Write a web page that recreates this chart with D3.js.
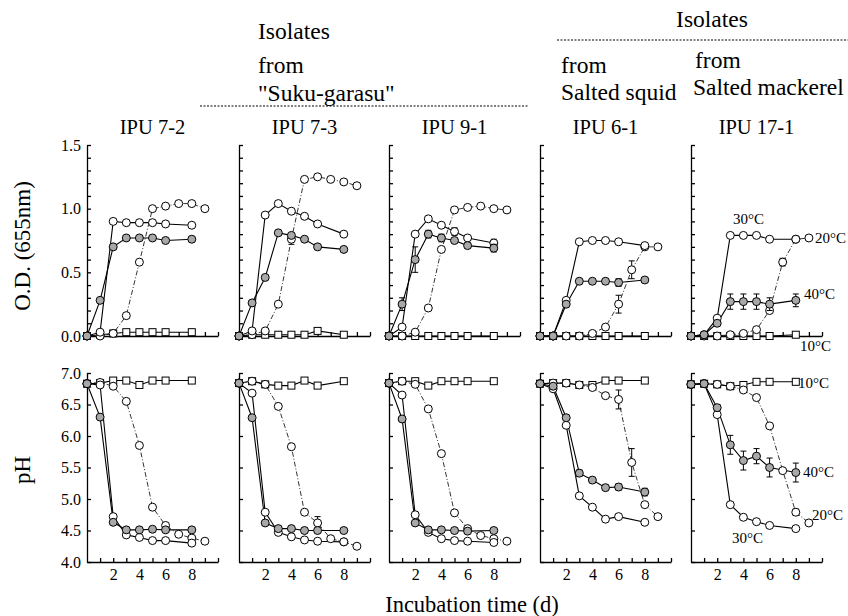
<!DOCTYPE html>
<html>
<head>
<meta charset="utf-8">
<script src="https://cdn.jsdelivr.net/npm/d3@7"></script>
<style>
  body { margin: 0; background: #fff; }
  svg text { font-family: "Liberation Serif", "DejaVu Serif", serif; fill: #000; }
  .axis path, .axis line { stroke: #000; stroke-width: 1.3; }
  .axis text { font-size: 16px; }
</style>
</head>
<body>
<div id="chart"></div>
<script>
const strains = ['IPU 7-2', 'IPU 7-3', 'IPU 9-1', 'IPU 6-1', 'IPU 17-1'];
const temps = ['t10', 't20', 't30', 't40'];
const dayTicks = [1, 2, 3, 4, 5, 6, 7, 8, 9, 10];
const dayLabels = [2, 4, 6, 8];
const odTicks = d3.range(0, 1.51, 0.1);
const odLabels = [0, 0.5, 1.0, 1.5];
const phTicks = [4.0, 4.5, 5.0, 5.5, 6.0, 6.5, 7.0];

// [day, value, error]
const od72 = {
  t10: [[0, 0], [1, 0.01], [2, 0.02], [3, 0.03], [4, 0.03], [5, 0.03], [6, 0.03], [8, 0.03]],
  t20: [[0, 0], [1, 0], [2, 0.02], [3, 0.16], [4, 0.58], [5, 1.0], [6, 1.02], [7, 1.04], [8, 1.04], [9, 1.0]],
  t30: [[0, 0], [1, 0.03], [2, 0.9], [3, 0.89], [4, 0.89], [5, 0.89], [6, 0.88], [8, 0.87]],
  t40: [[0, 0], [1, 0.28], [2, 0.7], [3, 0.77], [4, 0.77], [5, 0.77], [6, 0.75], [8, 0.76]],
};
const od73 = {
  t10: [[0, 0], [1, 0.01], [2, 0.01], [3, 0.01], [4, 0.01], [5, 0.01], [6, 0.04], [8, 0.01]],
  t20: [[0, 0], [1, 0.01], [2, 0.04], [3, 0.25], [4, 0.76, 0.04], [5, 1.23], [6, 1.25], [7, 1.23], [8, 1.21], [9, 1.18]],
  t30: [[0, 0], [1, 0.04], [2, 0.95], [3, 1.04], [4, 0.98], [5, 0.94], [6, 0.88], [8, 0.8]],
  t40: [[0, 0], [1, 0.26], [2, 0.46], [3, 0.81], [4, 0.79], [5, 0.76], [6, 0.7], [8, 0.68]],
};
const od91 = {
  t10: [[0, 0], [1, 0], [2, 0], [3, 0], [4, 0], [5, 0], [6, 0], [8, 0]],
  t20: [[0, 0], [1, 0], [2, 0.03], [3, 0.22], [4, 0.68], [5, 0.99], [6, 1.01], [7, 1.02], [8, 1.0], [9, 0.99]],
  t30: [[0, 0], [1, 0.07], [2, 0.8], [3, 0.92], [4, 0.87], [5, 0.82, 0.03], [6, 0.77], [8, 0.73, 0.03]],
  t40: [[0, 0], [1, 0.25, 0.05], [2, 0.6, 0.1], [3, 0.8, 0.03], [4, 0.77, 0.03], [5, 0.75], [6, 0.71, 0.02], [8, 0.69, 0.03]],
};
const od61 = {
  t10: [[0, 0], [1, 0], [2, 0], [3, 0], [4, 0], [5, 0], [6, 0], [8, 0]],
  t20: [[0, 0], [1, 0], [2, 0], [3, 0], [4, 0.02], [5, 0.07], [6, 0.25, 0.07], [7, 0.52, 0.07], [8, 0.7], [9, 0.7]],
  t30: [[0, 0], [1, 0], [2, 0.28], [3, 0.74], [4, 0.75], [5, 0.75], [6, 0.74], [8, 0.71]],
  t40: [[0, 0], [1, 0], [2, 0.25], [3, 0.43], [4, 0.43], [5, 0.43, 0.02], [6, 0.42, 0.03], [8, 0.44]],
};
const od171 = {
  t10: [[0, 0], [1, 0], [2, 0], [3, 0], [4, 0], [5, 0], [6, 0], [8, 0.01]],
  t20: [[0, 0], [1, 0], [2, 0], [3, 0.01], [4, 0.02], [5, 0.05], [6, 0.2], [7, 0.58, 0.03], [8, 0.76], [9, 0.77]],
  t30: [[0, 0], [1, 0.01], [2, 0.14], [3, 0.79], [4, 0.79], [5, 0.79], [6, 0.76], [8, 0.76]],
  t40: [[0, 0], [1, 0.01], [2, 0.1], [3, 0.27, 0.06], [4, 0.27, 0.06], [5, 0.27, 0.06], [6, 0.25, 0.05], [8, 0.28, 0.05]],
};

const ph72 = {
  t10: [[0, 6.83], [1, 6.84], [2, 6.88], [3, 6.88], [4, 6.81], [5, 6.88], [6, 6.88], [8, 6.88]],
  t20: [[0, 6.83], [1, 6.85], [2, 6.79], [3, 6.55], [4, 5.85], [5, 4.87], [6, 4.58], [7, 4.44], [8, 4.38], [9, 4.33]],
  t30: [[0, 6.83], [1, 6.81], [2, 4.72], [3, 4.43], [4, 4.39], [5, 4.34], [6, 4.34], [8, 4.3]],
  t40: [[0, 6.83], [1, 6.3], [2, 4.63], [3, 4.51], [4, 4.51], [5, 4.52], [6, 4.51], [8, 4.51]],
};
const ph73 = {
  t10: [[0, 6.84], [1, 6.87], [2, 6.82], [3, 6.8], [4, 6.8], [5, 6.88], [6, 6.8], [8, 6.87]],
  t20: [[0, 6.84], [1, 6.87], [2, 6.82], [3, 6.47], [4, 5.83], [5, 4.79], [6, 4.62, 0.1], [7, 4.37], [8, 4.32], [9, 4.25]],
  t30: [[0, 6.84], [1, 6.68], [2, 4.79], [3, 4.47], [4, 4.4], [5, 4.35], [6, 4.33], [8, 4.32]],
  t40: [[0, 6.84], [1, 6.29], [2, 4.62], [3, 4.53], [4, 4.53], [5, 4.5], [6, 4.5], [8, 4.5]],
};
const ph91 = {
  t10: [[0, 6.84], [1, 6.87], [2, 6.87], [3, 6.8], [4, 6.87], [5, 6.87], [6, 6.87], [8, 6.87]],
  t20: [[0, 6.84], [1, 6.87], [2, 6.82], [3, 6.43], [4, 5.72], [5, 4.78], [6, 4.53], [7, 4.42], [8, 4.37], [9, 4.33]],
  t30: [[0, 6.84], [1, 6.65], [2, 4.75], [3, 4.47], [4, 4.37], [5, 4.34], [6, 4.33], [8, 4.31]],
  t40: [[0, 6.84], [1, 6.27], [2, 4.62], [3, 4.51], [4, 4.51], [5, 4.5], [6, 4.49], [8, 4.5]],
};
const ph61 = {
  t10: [[0, 6.83], [1, 6.84], [2, 6.84], [3, 6.81], [4, 6.81], [5, 6.88], [6, 6.88], [8, 6.88]],
  t20: [[0, 6.83], [1, 6.84], [2, 6.84], [3, 6.81], [4, 6.77], [5, 6.64], [6, 6.58, 0.15], [7, 5.58, 0.22], [8, 4.91], [9, 4.72]],
  t30: [[0, 6.83], [1, 6.75], [2, 6.17], [3, 5.05], [4, 4.87], [5, 4.68], [6, 4.72], [8, 4.63]],
  t40: [[0, 6.83], [1, 6.79], [2, 6.29], [3, 5.41, 0.05], [4, 5.3, 0.04], [5, 5.18, 0.04], [6, 5.19, 0.05], [8, 5.11, 0.06]],
};
const ph171 = {
  t10: [[0, 6.82], [1, 6.83], [2, 6.82], [3, 6.79], [4, 6.81], [5, 6.86], [6, 6.86], [8, 6.86]],
  t20: [[0, 6.82], [1, 6.83], [2, 6.82], [3, 6.79], [4, 6.73], [5, 6.61], [6, 6.16], [7, 5.45], [8, 4.79, 0.05], [9, 4.62]],
  t30: [[0, 6.82], [1, 6.83], [2, 6.34], [3, 4.91], [4, 4.71], [5, 4.64], [6, 4.58], [8, 4.53]],
  t40: [[0, 6.82], [1, 6.83], [2, 6.45, 0.05], [3, 5.86, 0.15], [4, 5.61, 0.15], [5, 5.68, 0.12], [6, 5.5, 0.15], [8, 5.42, 0.15]],
};

const odPanels = [od72, od73, od91, od61, od171];
const phPanels = [ph72, ph73, ph91, ph61, ph171];

const width = 848;
const height = 616;
const colX = [87, 239, 389, 540, 691];
const panelW = 131;
const odRange = [336, 145];
const phRange = [562, 373];
const serif = '"Liberation Serif", "DejaVu Serif", serif';

const style = {
  t10: { dash: null, shape: 'square', fill: '#fff', sw: 1.1 },
  t20: { dash: '5,2,1,2', shape: 'circle', fill: '#fff', sw: 0.8 },
  t30: { dash: null, shape: 'circle', fill: '#fff', sw: 1.1 },
  t40: { dash: null, shape: 'circle', fill: '#a8a8a8', sw: 1.1 },
};

const svg = d3.select('#chart').append('svg')
  .attr('width', width)
  .attr('height', height)
  .attr('font-family', serif);

const x = d3.scaleLinear().domain([0, 10]).range([0, panelW]);
const yOd = d3.scaleLinear().domain([0, 1.5]).range(odRange);
const yPh = d3.scaleLinear().domain([4, 7]).range(phRange);

function drawPanel(g, data, y, row, col) {
  const xAxis = d3.axisBottom(x)
    .tickValues(dayTicks)
    .tickSizeInner(-4)
    .tickSizeOuter(0)
    .tickPadding(7)
    .tickFormat(d => (row === 1 && dayLabels.includes(d) ? d : ''));
  g.append('g')
    .attr('class', 'axis')
    .attr('transform', `translate(0,${y.range()[0]})`)
    .call(xAxis)
    .attr('font-family', serif);

  const yAxis = d3.axisLeft(y)
    .tickValues(row === 0 ? odTicks : phTicks)
    .tickSizeInner(-4)
    .tickSizeOuter(0)
    .tickPadding(6)
    .tickFormat((d) => {
      if (col !== 0) return '';
      if (row === 0) return odLabels.some(v => Math.abs(v - d) < 1e-6) ? d3.format('.1f')(d) : '';
      return d3.format('.1f')(d);
    });
  g.append('g').attr('class', 'axis').call(yAxis).attr('font-family', serif);

  const line = d3.line()
    .x(d => x(d[0]))
    .y(d => y(d[1]));

  temps.forEach((t) => {
    g.append('path')
      .datum(data[t])
      .attr('d', line)
      .attr('fill', 'none')
      .attr('stroke', '#000')
      .attr('stroke-width', style[t].sw)
      .attr('stroke-dasharray', style[t].dash);
  });

  temps.forEach((t) => {
    const pts = data[t];
    // error bars
    pts.filter(d => d[2]).forEach((d) => {
      const cx = x(d[0]);
      const y1 = y(d[1] - d[2]);
      const y2 = y(d[1] + d[2]);
      g.append('line').attr('x1', cx).attr('x2', cx).attr('y1', y1).attr('y2', y2)
        .attr('stroke', '#000').attr('stroke-width', 1);
      [y1, y2].forEach((yy) => {
        g.append('line').attr('x1', cx - 3).attr('x2', cx + 3).attr('y1', yy).attr('y2', yy)
          .attr('stroke', '#000').attr('stroke-width', 1);
      });
    });
    if (style[t].shape === 'square') {
      g.selectAll(null).data(pts).enter().append('rect')
        .attr('x', d => x(d[0]) - 3.5)
        .attr('y', d => y(d[1]) - 3.5)
        .attr('width', 7)
        .attr('height', 7)
        .attr('fill', style[t].fill)
        .attr('stroke', '#000')
        .attr('stroke-width', 1);
    } else {
      g.selectAll(null).data(pts).enter().append('circle')
        .attr('cx', d => x(d[0]))
        .attr('cy', d => y(d[1]))
        .attr('r', 4)
        .attr('fill', style[t].fill)
        .attr('stroke', '#000')
        .attr('stroke-width', 1);
    }
  });
}

strains.forEach((s, i) => {
  const g = svg.append('g').attr('transform', `translate(${colX[i]},0)`);
  drawPanel(g, odPanels[i], yOd, 0, i);
  drawPanel(g, phPanels[i], yPh, 1, i);
  g.append('text')
    .attr('x', panelW / 2)
    .attr('y', 134)
    .attr('text-anchor', 'middle')
    .attr('font-size', 20.5)
    .text(s);
});

// header
const txt = (t, xx, yy, size, anchor) => svg.append('text')
  .attr('x', xx).attr('y', yy)
  .attr('font-size', size)
  .attr('text-anchor', anchor || 'start')
  .text(t);

txt('Isolates', 258, 39, 23.5);
txt('from', 258, 73, 23.5);
txt('"Suku-garasu"', 258, 101, 23.5);
txt('Isolates', 712, 27, 23.5, 'middle');
txt('from', 561, 73, 23.5);
txt('Salted squid', 561, 100, 23.5);
txt('from', 695, 68, 23.5);
txt('Salted mackerel', 693, 95, 23.5);

svg.append('line').attr('x1', 200).attr('x2', 528).attr('y1', 106).attr('y2', 106)
  .attr('stroke', '#000').attr('stroke-width', 1).attr('stroke-dasharray', '2,1.5');
svg.append('line').attr('x1', 557).attr('x2', 848).attr('y1', 40).attr('y2', 40)
  .attr('stroke', '#000').attr('stroke-width', 1).attr('stroke-dasharray', '2,1.5');

// axis titles
svg.append('text')
  .attr('transform', 'translate(30,246) rotate(-90)')
  .attr('text-anchor', 'middle')
  .attr('font-size', 23)
  .text('O.D. (655nm)');
svg.append('text')
  .attr('transform', 'translate(30,470) rotate(-90)')
  .attr('text-anchor', 'middle')
  .attr('font-size', 23)
  .text('pH');
txt('Incubation time (d)', 472, 612, 22.5, 'middle');

// temperature labels
txt('30°C', 733, 224, 15);
txt('20°C', 815, 243, 15);
txt('40°C', 804, 299, 15);
txt('10°C', 800, 351, 15);
txt('10°C', 798, 388, 15);
txt('40°C', 803, 477, 15);
txt('20°C', 812, 520, 15);
txt('30°C', 732, 543, 15);
</script>
</body>
</html>
